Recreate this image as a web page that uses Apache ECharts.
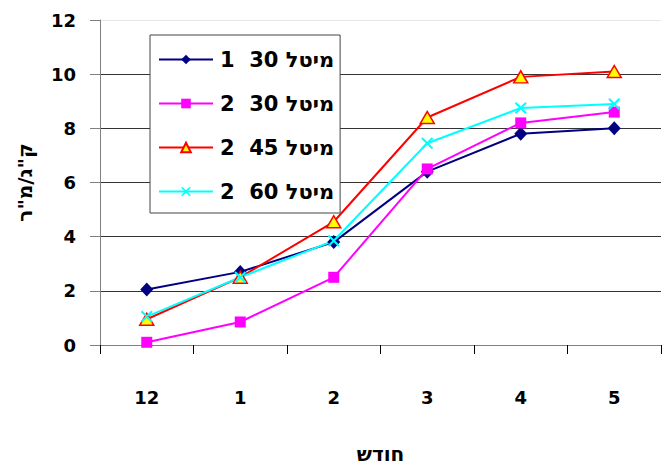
<!DOCTYPE html>
<html>
<head>
<meta charset="utf-8">
<script src="https://cdn.jsdelivr.net/npm/echarts@6/dist/echarts.min.js"></script>
<style>html,body{margin:0;padding:0;background:#fff}#c{width:663px;height:469px}</style>
</head>
<body>
<div id="c"></div>
<script>
const categories = ['12', '1', '2', '3', '4', '5'];
const seriesNames = ['1  30 מיטל', '2  30 מיטל', '2  45 מיטל', '2  60 מיטל'];
const meital30_1 = [2.05, 2.7, 3.8, 6.4, 7.8, 8.0];
const meital30_2 = [0.1, 0.85, 2.5, 6.5, 8.2, 8.6];
const meital45_2 = [0.95, 2.5, 4.55, 8.4, 9.9, 10.1];
const meital60_2 = [1.05, 2.5, 3.85, 7.45, 8.75, 8.9];
const yTicks = { min: 0, max: 12, interval: 2 };

const F = 'DejaVu Sans';
const xPath = 'path://M0,1.2 L1.2,0 L5,3.8 L8.8,0 L10,1.2 L6.2,5 L10,8.8 L8.8,10 L5,6.2 L1.2,10 L0,8.8 L3.8,5 Z';

const chart = echarts.init(document.getElementById('c'), null, { renderer: 'svg' });
chart.setOption({
  backgroundColor: '#fff',
  animation: false,
  grid: { left: 100, right: 2, top: 20, bottom: 117, containLabel: false },
  legend: {
    orient: 'vertical',
    left: 150, top: 35,
    padding: [14, 6, 11, 8],
    itemGap: 23,
    itemWidth: 54, itemHeight: 12,
    backgroundColor: '#fff',
    borderColor: '#444', borderWidth: 1,
    textStyle: { fontFamily: F, fontWeight: 'bold', fontSize: 21, color: '#000', padding: [0, 0, 0, 2] },
    data: seriesNames
  },
  xAxis: {
    type: 'category',
    data: categories,
    name: 'חודש',
    nameLocation: 'middle',
    nameGap: 99,
    nameTextStyle: { fontFamily: F, fontWeight: 'bold', fontSize: 20, color: '#000' },
    axisLine: { lineStyle: { color: '#808080', width: 1 } },
    axisTick: { show: true, length: 9, lineStyle: { color: '#000' } },
    axisLabel: { fontFamily: F, fontWeight: 'bold', fontSize: 18, color: '#000', margin: 43 },
    splitLine: { show: false }
  },
  yAxis: {
    type: 'value',
    min: yTicks.min, max: yTicks.max, interval: yTicks.interval,
    name: 'ק"ג/מ"ר',
    nameLocation: 'middle',
    nameGap: 65,
    nameRotate: 90,
    nameTextStyle: { fontFamily: F, fontWeight: 'bold', fontSize: 20, color: '#000' },
    axisLine: { show: true, lineStyle: { color: '#808080', width: 1 } },
    axisTick: { show: true, length: 10, lineStyle: { color: '#808080' } },
    axisLabel: { fontFamily: F, fontWeight: 'bold', fontSize: 18, color: '#000', margin: 24 },
    splitLine: { show: true, lineStyle: { color: ['#333', '#333', '#333', '#333', '#333', '#333', '#e6e6e6'], width: 1 } }
  },
  series: [
    {
      name: seriesNames[0], type: 'line', data: meital30_1,
      symbol: 'diamond', symbolSize: [13, 14],
      lineStyle: { color: '#000080', width: 2 },
      itemStyle: { color: '#000080' }
    },
    {
      name: seriesNames[1], type: 'line', data: meital30_2,
      symbol: 'rect', symbolSize: 11,
      lineStyle: { color: '#ff00ff', width: 2 },
      itemStyle: { color: '#ff00ff' }
    },
    {
      name: seriesNames[2], type: 'line', data: meital45_2,
      symbol: 'triangle', symbolSize: [14, 12],
      lineStyle: { color: '#ff0000', width: 2 },
      itemStyle: { color: '#ffff00', borderColor: '#ff0000', borderWidth: 1.5 }
    },
    {
      name: seriesNames[3], type: 'line', data: meital60_2,
      symbol: xPath, symbolSize: 12,
      lineStyle: { color: '#00ffff', width: 2 },
      itemStyle: { color: '#00ffff' }
    }
  ]
});
</script>
</body>
</html>
